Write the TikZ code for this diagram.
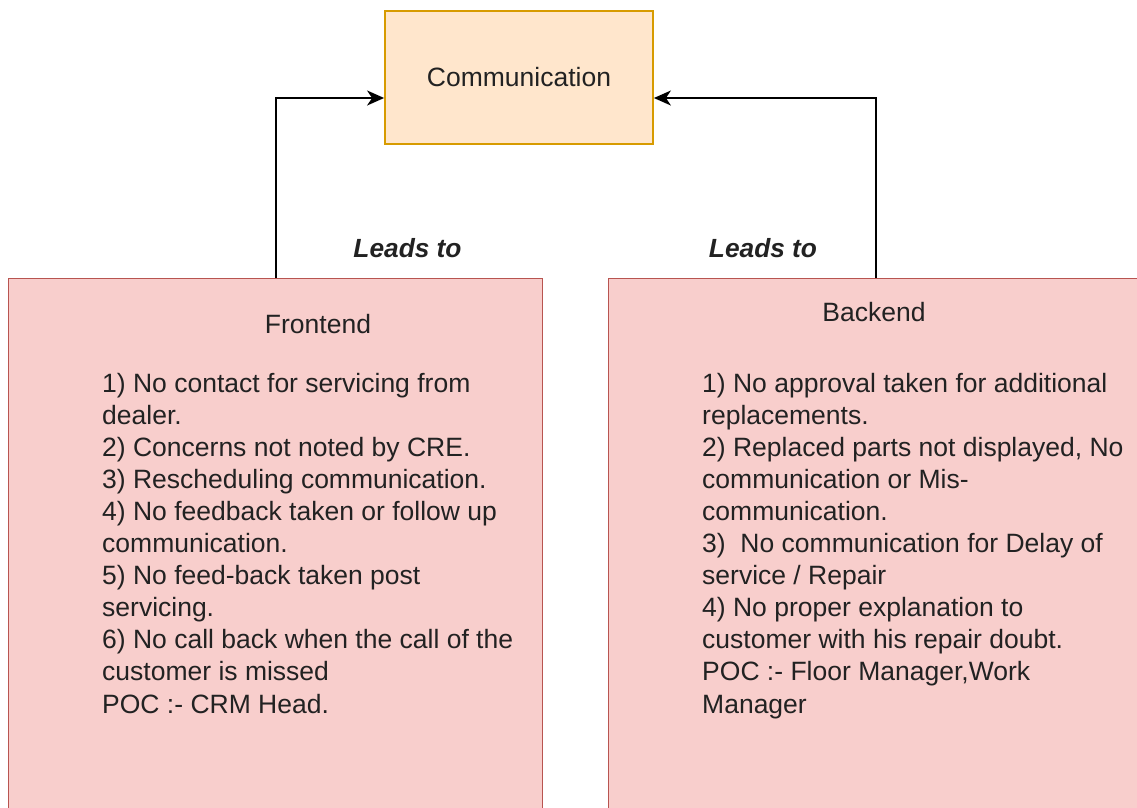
\documentclass[tikz,border=0pt]{standalone}
\usepackage{fontspec}
\setmainfont{Liberation Sans}
\usetikzlibrary{arrows.meta,calc}

\definecolor{peachfill}{HTML}{FFE6CC}
\definecolor{peachline}{HTML}{D79B00}
\definecolor{redfill}{HTML}{F8CECC}
\definecolor{redline}{HTML}{B85450}
\definecolor{ink}{HTML}{222222}

\tikzset{
  x=1pt, y=-1pt,
  every node/.style={text=ink, font=\fontsize{26.5}{32.1}\selectfont},
  topbox/.style={draw=peachline, fill=peachfill, line width=1.8pt,
    minimum width=268pt, minimum height=133pt, inner sep=0pt},
  areabox/.style={draw=redline, fill=redfill, line width=1.4pt,
    minimum width=534pt, minimum height=560pt, inner sep=0pt, anchor=north west},
  conn/.style={draw=black, line width=1.6pt,
    -{Stealth[length=17pt, width=15pt, inset=5pt]}},
  leadlabel/.style={anchor=base, inner sep=0pt,
    font=\fontsize{26.3}{32.1}\selectfont\bfseries\itshape},
  title/.style={anchor=base, inner sep=0pt},
  itemlist/.style={anchor=base west, inner sep=0pt},
}

\begin{document}
\begin{tikzpicture}
  \useasboundingbox (0,0) rectangle (1137,807);
  \clip (0,0) rectangle (1137,807);

  % central topic
  \node[topbox] (comm) at (519,77.5) {Communication};

  % the two areas
  \node[areabox] (front) at (8,278) {};
  \node[areabox] (back) at (608,278) {};

  % connectors into the topic
  \draw[conn] (front.north) |- ([yshift=-20.5pt]comm.west);
  \draw[conn] (back.north) |- ([yshift=-20.5pt]comm.east);

  \node[leadlabel] (leadl) at (407.5,257.5) {Leads to};
  \node[leadlabel] (leadr) at (763,257.5) {Leads to};

  % frontend contents
  \node[title] (ftitle) at (318,333) {Frontend};
  \node[itemlist] (flist) at (102,392) {\begin{tabular}[t]{@{}l@{}}
    1) No contact for servicing from\\
    dealer.\\
    2) Concerns not noted by CRE.\\
    3) Rescheduling communication.\\
    4) No feedback taken or follow up\\
    communication.\\
    5) No feed-back taken post\\
    servicing.\\
    6) No call back when the call of the\\
    customer is missed\\
    POC :- CRM Head.
  \end{tabular}};

  % backend contents
  \node[title] (btitle) at (874,321) {Backend};
  \node[itemlist] (blist) at (702,392) {\begin{tabular}[t]{@{}l@{}}
    1) No approval taken for additional\\
    replacements.\\
    2) Replaced parts not displayed, No\\
    communication or Mis-\\
    communication.\\
    3)\ \ No communication for Delay of\\
    service / Repair\\
    4) No proper explanation to\\
    customer with his repair doubt.\\
    POC :- Floor Manager,Work\\
    Manager
  \end{tabular}};
\end{tikzpicture}
\end{document}
